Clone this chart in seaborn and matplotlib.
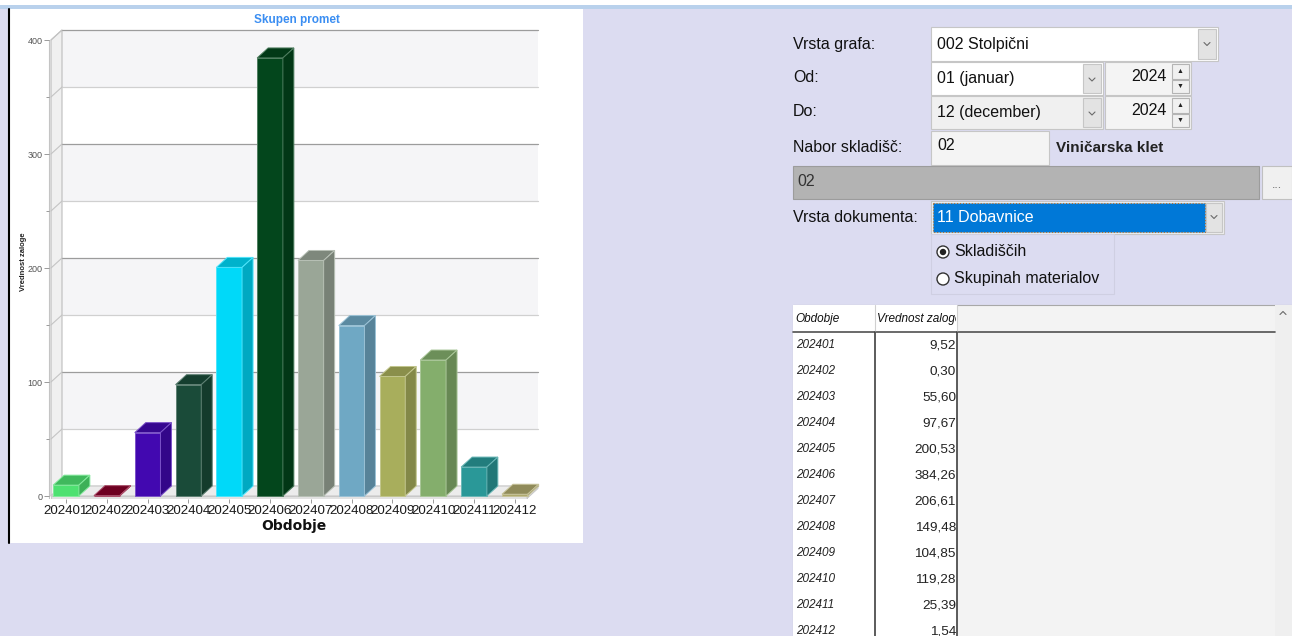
import matplotlib
matplotlib.use("Agg")
import matplotlib.pyplot as plt
import matplotlib.colors as mcolors
from matplotlib.patches import Rectangle, Polygon, Circle
from matplotlib.transforms import Bbox, TransformedBbox
import pandas as pd
import seaborn as sns

# ── Data ───────────────────────────────────────────────────────────────────────
periods = ["202401", "202402", "202403", "202404", "202405", "202406",
           "202407", "202408", "202409", "202410", "202411", "202412"]
values = [9.52, 0.30, 55.60, 97.67, 200.53, 384.26,
          206.61, 149.48, 104.85, 119.28, 25.39, 1.54]
bar_colors = ["#4ee171", "#860028", "#4208b0", "#1a4b39", "#00d9f9", "#03461c",
              "#9aa697", "#6fa8c4", "#a8ae5c", "#84ae6c", "#2a9898", "#afaa6e"]
y_ticks = [0, 100, 200, 300, 400]

chart_title = "Skupen promet"
x_title = "Obdobje"
y_title = "Vrednost zaloge"
table_header = ["Obdobje", "Vrednost zaloge"]

# ── Setup ──────────────────────────────────────────────────────────────────────
sns.set_theme(style="white")
plt.rcParams["font.family"] = ["Liberation Sans", "DejaVu Sans"]

W, H = 1292, 636
BG = "#dcdcf1"
fig = plt.figure(figsize=(W / 100, H / 100), dpi=100, facecolor=BG)

# pixel canvas for the form around the chart
ui = fig.add_axes([0, 0, 1, 1])
ui.set_xlim(0, W)
ui.set_ylim(H, 0)
ui.axis("off")


def box(x0, y0, x1, y1, fc, ec="#c6c6c6", lw=0.8, z=1, **kw):
    r = Rectangle((x0, y0), x1 - x0, y1 - y0, facecolor=fc, edgecolor=ec,
                  linewidth=lw, zorder=z, **kw)
    ui.add_patch(r)
    return r


def txt(x, y, s, size=11.5, color="#111111", **kw):
    return ui.text(x, y, s, fontsize=size, color=color, va="center", zorder=5, **kw)


def chevron(cx, cy, up=False):
    d = -1.5 if up else 1.5
    ui.plot([cx - 3, cx, cx + 3], [cy - d, cy + d, cy - d], color="#6a6a6a",
            lw=0.8, zorder=6)


# top strip, chart panel
box(0, 0, W, 5, "white", ec="none", z=0)
box(0, 5, W, 9, "#b9d1ec", ec="none", z=0)
box(10, 9, 583, 543, "white", ec="none", z=0)
ui.plot([8.5, 8.5], [9, 543], color="black", lw=1.5, zorder=1)

# ── Form ──────────────────────────────────────────────────────────────────────
txt(793, 44, "Vrsta grafa:")
box(931, 27, 1218, 61, "white")
box(1198, 29, 1216, 59, "#e3e3e3")
chevron(1207, 44)
txt(937, 44, "002 Stolpični")

for y0, y1, month, fc in [(62, 95, "01 (januar)", "white"),
                          (96, 129, "12 (december)", "#f0f0f0")]:
    cy = (y0 + y1) / 2
    box(931, y0, 1103, y1, fc)
    box(1083, y0 + 2, 1101, y1 - 2, "#e3e3e3")
    chevron(1092, cy + 1)
    txt(937, cy, month)
    box(1105, y0, 1191, y1, "#f4f4f4")
    txt(1167, cy - 2, "2024", ha="right")
    box(1172, y0 + 2, 1189, cy, "#f0f0f0", ec="#b4b4b4")
    box(1172, cy + 1, 1189, y1 - 2, "#f0f0f0", ec="#b4b4b4")
    ui.text(1180.5, (y0 + cy) / 2 + 1, "▲", fontsize=5, ha="center", va="center",
            color="#222222", zorder=6)
    ui.text(1180.5, (cy + y1) / 2, "▼", fontsize=5, ha="center", va="center",
            color="#222222", zorder=6)
txt(793, 78, "Od:")
txt(793, 112, "Do:")

txt(793, 147, "Nabor skladišč:")
box(931, 131, 1049, 165, "#f4f4f4")
txt(937, 146, "02")
txt(1056, 148, "Viničarska klet", size=11, fontweight="bold", color="#222222")

box(793, 166, 1259, 199, "#b3b3b3", ec="#9c9c9c")
txt(797, 181, "02", color="#333333")
box(1262, 166, 1292, 199, "#f0f0f0", ec="#c0c0c0")
txt(1277, 185, "...", size=9, color="#666666", ha="center")

txt(793, 217, "Vrsta dokumenta:")
box(931, 201, 1224, 234, "#f0f0f0")
box(933, 203, 1205, 232, "#0078d7", ec="#b07030", lw=0.8, ls=":")
box(1206, 203, 1222, 232, "#e3e3e3")
chevron(1214, 217)
txt(937, 217, "11 Dobavnice", color="white")

box(931, 234, 1114, 294, BG, ec="#cfcfe2")
for cy, label, on in [(252, "Skladiščih", True), (279, "Skupinah materialov", False)]:
    ui.add_patch(Circle((943, cy), 6, facecolor="white", edgecolor="#333333", lw=1, zorder=4))
    if on:
        ui.add_patch(Circle((943, cy), 3.2, facecolor="#222222", lw=0, zorder=5))
    txt(954, cy, label)

# ── Table ─────────────────────────────────────────────────────────────────────
box(793, 305, 1292, 640, "#f3f3f3", ec="#a8a8a8")
box(793, 305, 875, 640, "white", ec="none", z=1.5)
box(875, 305, 957, 640, "white", ec="none", z=1.5)
box(1275, 305, 1292, 640, "#efefef", ec="none", z=1.5)
chevron(1283, 313, up=True)
ui.plot([793, 1275], [332, 332], color="#505050", lw=1.2, zorder=3)
for x in (875, 957):
    ui.plot([x, x], [305, 332], color="#d0d0d0", lw=0.8, zorder=3)
    ui.plot([x, x], [332, 640], color="#404040", lw=1.2, zorder=3)

txt(795, 319, table_header[0], size=8.5, fontstyle="italic")
hdr = txt(877, 319, table_header[1], size=8.5, fontstyle="italic")
hdr.set_clip_box(TransformedBbox(Bbox([[875, 305], [956, 332]]), ui.transData))
hdr.set_clip_on(True)

for i, (p, v) in enumerate(zip(periods, values)):
    y = 345 + 26 * i
    txt(796, y, p, size=8.5, fontstyle="italic", color="#222222")
    txt(956, y, f"{v:.2f}".replace(".", ","), size=9.7, ha="right", color="#222222")

# ── Chart ─────────────────────────────────────────────────────────────────────
PX_CAT, PX_UNIT = 40.8, 1.14          # pixels per category / per value unit
X_FIRST, Y_ZERO = 66, 496             # pixel of first category / value 0
L, R, T, B = 40, 560, 20, 499
ax = fig.add_axes([L / W, 1 - B / H, (R - L) / W, (B - T) / H])
ax.set_facecolor("none")

df = pd.DataFrame({"Obdobje": periods, "Vrednost": values})
sns.barplot(data=df, x="Obdobje", y="Vrednost", hue="Obdobje", palette=bar_colors,
            width=0.63, saturation=1, errorbar=None, legend=False, ax=ax)
bars = list(ax.patches)

ax.set_xlim((L - X_FIRST) / PX_CAT, (R - X_FIRST) / PX_CAT)
ax.set_ylim((Y_ZERO - B) / PX_UNIT, (Y_ZERO - T) / PX_UNIT)

DX, DY = 11 / PX_CAT, 10 / PX_UNIT    # oblique depth
X0, X1 = (51 - X_FIRST) / PX_CAT, (527 - X_FIRST) / PX_CAT
top = y_ticks[-1]
step = (y_ticks[1] - y_ticks[0]) / 2
levels = [y_ticks[0] + k * step for k in range(int((top - y_ticks[0]) / step) + 1)]

# back wall with alternating bands
for k, lo in enumerate(levels[:-1]):
    ax.add_patch(Rectangle((X0 + DX, lo + DY), X1 - X0, step, lw=0,
                           facecolor="#f5f5f7" if k % 2 else "white", zorder=0.2))
ax.add_patch(Polygon([(X0, 0), (X0 + DX, DY), (X0 + DX, top + DY), (X0, top)],
                     facecolor="#f0f0f0", edgecolor="#bdbdbd", lw=0.8, zorder=0.25))
ax.plot([X0 - 0.05, X0 - 0.05], [-2.2, top], color="#c4c4c4", lw=0.8, zorder=0.25)
for lv in levels:
    dark = (lv - y_ticks[0]) % (2 * step) == 0
    ax.plot([X0 + DX, X1 + DX], [lv + DY, lv + DY], lw=0.9,
            color="#9c9c9c" if dark else "#d0d0d0", zorder=0.3)
    ax.plot([X0, X0 + DX], [lv, lv + DY], lw=0.8, color="#c4c4c4", zorder=0.3)

# floor
ax.add_patch(Polygon([(X0, 0), (X1, 0), (X1 + DX, DY), (X0 + DX, DY)],
                     facecolor="#ececec", edgecolor="#c8c8c8", lw=0.8, zorder=0.4))
ax.add_patch(Rectangle((X0, -2.2), X1 - X0, 2.2, facecolor="#e2e2e2",
                       edgecolor="#c4c4c4", lw=0.6, zorder=0.4))
ax.add_patch(Polygon([(X1, -2.2), (X1 + DX, DY - 2.2), (X1 + DX, DY), (X1, 0)],
                     facecolor="#dadada", edgecolor="#c4c4c4", lw=0.6, zorder=0.4))


def shade(c, f):
    r, g, b = mcolors.to_rgb(c)
    return (r * f, g * f, b * f)


def tint(c, f):
    r, g, b = mcolors.to_rgb(c)
    return (r + (1 - r) * f, g + (1 - g) * f, b + (1 - b) * f)


# extrude the seaborn bars into 3D boxes
for patch, col in zip(bars, bar_colors):
    x0, w, h = patch.get_x(), patch.get_width(), patch.get_height()
    x1 = x0 + w
    edge = tint(col, 0.3)
    patch.set_edgecolor(edge)
    patch.set_linewidth(0.7)
    patch.set_zorder(3)
    ax.add_patch(Polygon([(x0, h), (x1, h), (x1 + DX, h + DY), (x0 + DX, h + DY)],
                         facecolor=shade(col, 0.82), edgecolor=edge, lw=0.7, zorder=3))
    ax.add_patch(Polygon([(x1, 0), (x1 + DX, DY), (x1 + DX, h + DY), (x1, h)],
                         facecolor=shade(col, 0.78), edgecolor=edge, lw=0.7, zorder=3))

# axes, ticks, labels
for s in ax.spines.values():
    s.set_visible(False)
ax.spines["left"].set_position(("data", X0 - 0.05))
ax.set_yticks(y_ticks)
ax.set_yticks([t + step for t in y_ticks[:-1]], minor=True)
ax.tick_params(axis="y", which="both", left=True, direction="out", color="#8a8a8a",
               width=0.6, pad=1, labelsize=6.5, labelcolor="#555555")
ax.tick_params(axis="y", which="major", length=3.5)
ax.tick_params(axis="y", which="minor", length=2.5)
ax.tick_params(axis="x", bottom=True, direction="out", length=3, width=0.6,
               color="#8a8a8a", pad=1, labelsize=9.6, labelcolor="#1a1a1a")

ax.set_xlabel(x_title, fontsize=10, fontweight="bold", family="DejaVu Sans",
              color="#111111")
ax.xaxis.set_label_coords((294 - L) / (R - L), (B - 519) / (B - T))
ax.set_ylabel(y_title, fontsize=5.5, fontweight="bold", color="#222222")
ax.yaxis.set_label_coords((27 - L) / (R - L), (B - 262) / (B - T))

fig.text(297 / W, 1 - 20 / H, chart_title, ha="center", va="center",
         fontsize=8.5, fontweight="bold", color="#3b8ef2")

fig.savefig("out.png", dpi=100, facecolor=fig.get_facecolor())
